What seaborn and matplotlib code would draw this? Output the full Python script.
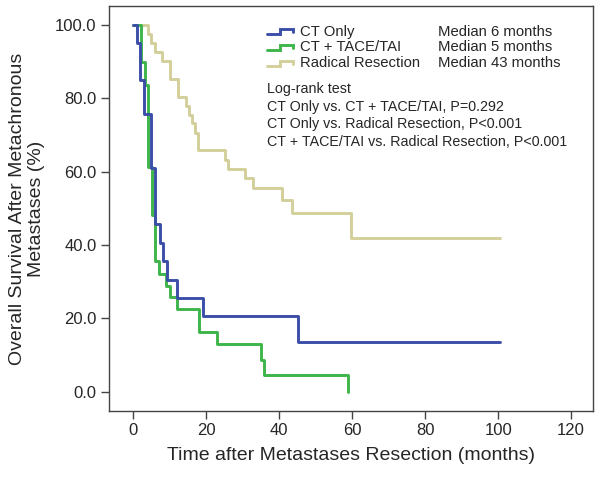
import pandas as pd
import numpy as np
import matplotlib
matplotlib.use("Agg")
import matplotlib.pyplot as plt
import seaborn as sns

# --- DATA ---
ct_time = [0, 0.9, 1.9, 2.8, 4.8, 5.9, 7.2, 8.1, 9.2, 12.0, 19.0, 45.0, 100.5]
ct_surv = [100, 95.0, 85.1, 75.8, 60.9, 45.6, 40.6, 35.5, 30.5, 25.5, 20.5, 13.5, 13.5]

tace_time = [0, 2.0, 3.1, 4.0, 5.1, 5.9, 6.9, 9.0, 9.9, 11.9, 18.0, 22.9, 35.0, 35.7, 58.7]
tace_surv = [100, 90.0, 83.7, 61.3, 48.3, 35.5, 32.1, 28.8, 25.7, 22.6, 16.2, 13.0, 8.6, 4.4, 0.0]

rr_time = [0, 4.0, 4.9, 5.9, 7.8, 9.9, 12.1, 14.3, 15.2, 16.0, 16.9, 17.7, 25.1, 26.0,
           30.6, 32.9, 40.6, 43.4, 59.6, 100.5]
rr_surv = [100, 97.6, 95.1, 92.7, 90.2, 85.3, 80.3, 77.9, 75.5, 73.2, 70.6, 65.9, 63.3, 60.8,
           58.2, 55.6, 52.3, 48.6, 41.8, 41.8]

groups = ["CT Only", "CT + TACE/TAI", "Radical Resection"]
medians = ["Median 6 months", "Median 5 months", "Median 43 months"]
logrank_lines = ["Log-rank test",
                 "CT Only vs. CT + TACE/TAI, P=0.292",
                 "CT Only vs. Radical Resection, P<0.001",
                 "CT + TACE/TAI vs. Radical Resection, P<0.001"]
x_ticks = [0, 20, 40, 60, 80, 100, 120]
y_ticks = [0, 20, 40, 60, 80, 100]

colors = {"CT Only": "#3b4fa8", "CT + TACE/TAI": "#3db54a", "Radical Resection": "#d3cf9a"}

# --- build long-form table ---
df = pd.concat([
    pd.DataFrame({"time": ct_time, "surv": ct_surv, "group": groups[0]}),
    pd.DataFrame({"time": tace_time, "surv": tace_surv, "group": groups[1]}),
    pd.DataFrame({"time": rr_time, "surv": rr_surv, "group": groups[2]}),
], ignore_index=True)

sns.set_style("white")
plt.rcParams['font.family'] = ['Liberation Sans', 'DejaVu Sans']

fig = plt.figure(figsize=(6.0, 4.79), dpi=100)
ax = fig.add_axes([0.1817, 0.142, 0.8066, 0.8455])

# draw in reverse so blue ends up on top like the original
for g in groups[::-1]:
    sub = df[df["group"] == g]
    sns.lineplot(data=sub, x="time", y="surv", ax=ax, color=colors[g],
                 estimator=None, sort=False, drawstyle="steps-post",
                 linewidth=2.1, legend=False)

ax.set_xlim(-6.7, 126)
ax.set_ylim(-5.3, 105.2)
ax.set_xticks(x_ticks)
ax.set_xticklabels([str(v) for v in x_ticks], fontsize=12)
ax.set_yticks(y_ticks)
ax.set_yticklabels([f"{v:.1f}" for v in y_ticks], fontsize=12)
ax.tick_params(axis="both", direction="out", length=6, width=1, color="#444444",
               bottom=True, left=True, pad=3)
for sp in ax.spines.values():
    sp.set_color("#444444")
    sp.set_linewidth(1.0)

ax.set_xlabel("Time after Metastases Resection (months)", fontsize=14, labelpad=6)
ax.set_ylabel("Overall Survival After Metachronous\nMetastases (%)", fontsize=14,
              labelpad=7, linespacing=1.15)

# --- manual legend with step-shaped symbols ---
def ax_xy(px, py):
    # pixel position in figure -> axes fraction
    inv = ax.transAxes.inverted()
    return inv.transform(fig.transFigure.transform((px / 600, 1 - py / 479)))

row_py = [31.7, 47.3, 63.3]
for g, med, py in zip(groups, medians, row_py):
    x0, y0 = ax_xy(267, py + 2.5)
    x1, y1 = ax_xy(280, py - 2.5)
    x2, y2 = ax_xy(293, py + 0.5)
    ax.plot([x0, x1, x1, x2, x2], [y0, y0, y1, y1, y2], color=colors[g],
            linewidth=2.1, transform=ax.transAxes, solid_joinstyle="miter")
    tx, ty = ax_xy(300, py)
    ax.text(tx, ty, g, transform=ax.transAxes, fontsize=10.7, va="center", ha="left")
    mx, my = ax_xy(438, py)
    ax.text(mx, my, med, transform=ax.transAxes, fontsize=10.7, va="center", ha="left")

for line, py in zip(logrank_lines, [89.3, 107.3, 124.3, 142.3]):
    tx, ty = ax_xy(267, py)
    ax.text(tx, ty, line, transform=ax.transAxes, fontsize=10.3, va="center", ha="left")

fig.savefig("out.png", dpi=100)
